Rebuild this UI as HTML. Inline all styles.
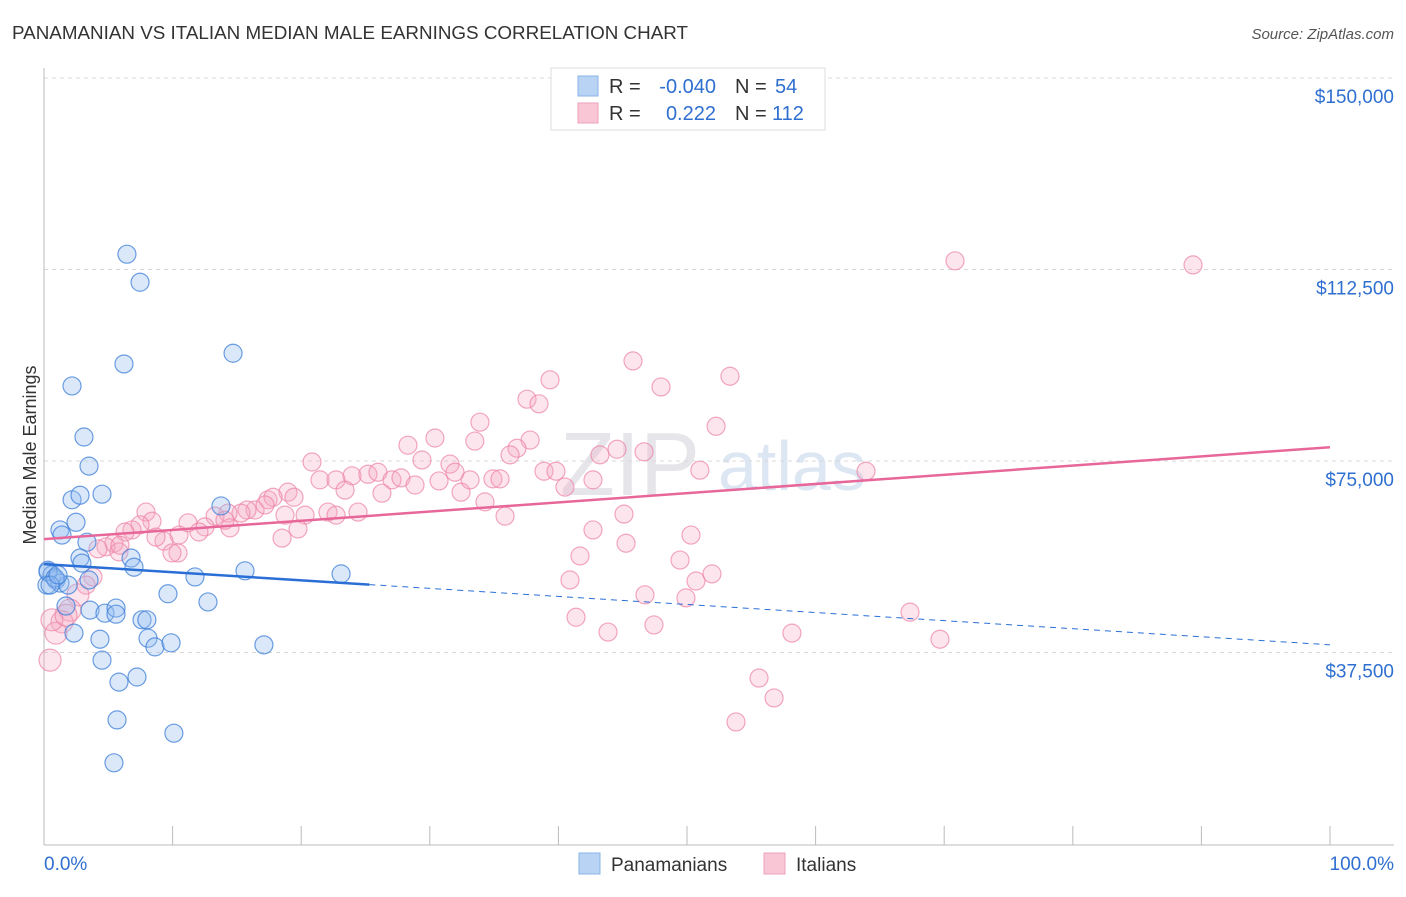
<!DOCTYPE html>
<html><head><meta charset="utf-8"><style>
body{margin:0;background:#fff;font-family:"Liberation Sans",sans-serif}
svg text{font-family:"Liberation Sans",sans-serif}
</style></head><body>
<svg id="c" width="1406" height="892" xmlns="http://www.w3.org/2000/svg">
<text x="12" y="39" font-size="18" fill="#333" textLength="676" lengthAdjust="spacingAndGlyphs">PANAMANIAN VS ITALIAN MEDIAN MALE EARNINGS CORRELATION CHART</text>
<text x="1394" y="39" font-size="15" fill="#555" font-style="italic" text-anchor="end">Source: ZipAtlas.com</text>
<text x="36" y="455" font-size="18" fill="#333" text-anchor="middle" transform="rotate(-90 36 455)">Median Male Earnings</text>
<text x="560" y="495" font-size="90" fill="#e6e6ea" font-family="Liberation Serif">ZIP</text>
<text x="718" y="490" font-size="70" fill="#dde6f3">atlas</text>
<g id="grid"></g><g id="pts"></g><g id="lines"></g>
<g>
<rect x="551" y="68" width="274" height="62" fill="#fff" stroke="#ddd"/>
<rect x="578" y="76" width="20" height="20" fill="#b9d3f5" stroke="#8ab3e8"/>
<rect x="578" y="103" width="20" height="20" fill="#f8c6d5" stroke="#eda3bb"/>
<text x="609" y="93" font-size="20" fill="#333">R =</text>
<text x="716" y="93" font-size="20" fill="#2f6fd0" text-anchor="end">-0.040</text>
<text x="735" y="93" font-size="20" fill="#333">N =</text>
<text x="775" y="93" font-size="20" fill="#2f6fd0">54</text>
<text x="609" y="120" font-size="20" fill="#333">R =</text>
<text x="716" y="120" font-size="20" fill="#2f6fd0" text-anchor="end">0.222</text>
<text x="735" y="120" font-size="20" fill="#333">N =</text>
<text x="772" y="120" font-size="20" fill="#2f6fd0">112</text>
</g>
<g>
<rect x="579" y="853" width="21" height="21" fill="#b9d3f5" stroke="#8ab3e8"/>
<text x="611" y="871" font-size="19" fill="#333">Panamanians</text>
<rect x="764" y="853" width="21" height="21" fill="#f8c6d5" stroke="#eda3bb"/>
<text x="796" y="871" font-size="19" fill="#333">Italians</text>
</g>
<text x="44" y="870" font-size="19" fill="#2f6fd0">0.0%</text>
<text x="1394" y="870" font-size="19" fill="#2f6fd0" text-anchor="end">100.0%</text>
</svg>
<script>
const yTicks=[37500,75000,112500,150000];
const yTickLabels=["$37,500","$75,000","$112,500","$150,000"];
const blueX=[6.45,7.47,14.7,6.22,2.18,3.11,3.5,2.18,2.8,4.51,13.76,1.24,2.49,1.4,3.34,2.8,6.77,7.0,2.95,11.74,15.63,23.1,0.31,0.62,0.93,1.24,0.23,3.5,1.87,9.64,12.75,1.71,3.58,4.74,5.6,5.6,7.62,8.0,2.33,4.35,8.09,8.63,9.88,17.1,4.51,5.83,7.23,5.68,10.1,5.44,0.31,0.86,0.47,1.09];
const blueY=[115.5,110.0,96.1,94.0,89.7,79.7,74.0,67.4,68.3,68.5,66.2,61.5,63.0,60.5,59.1,56.0,56.0,54.2,55.0,52.3,53.5,52.9,53.6,52.7,51.7,51.1,50.7,51.7,50.7,49.0,47.4,46.6,45.8,45.2,46.2,45.0,43.9,43.9,41.3,40.1,40.3,38.6,39.4,39.0,36.0,31.7,32.7,24.3,21.7,15.9,53.3,52.1,50.7,52.7];
const pinkX=[70.84,89.35,45.8,53.34,39.35,47.98,37.56,38.49,52.26,33.9,30.4,33.5,37.8,28.3,36.78,44.56,46.66,20.84,29.39,31.57,38.88,39.81,63.92,23.95,25.19,25.97,27.06,27.76,28.85,30.72,31.96,34.91,35.46,21.46,22.71,40.51,42.69,26.28,32.43,18.97,19.44,17.42,34.29,17.81,16.41,15.79,15.32,14.31,22.08,24.42,22.71,20.3,7.93,8.4,11.2,13.3,12.52,14.46,7.47,6.84,6.3,12.05,10.5,9.33,8.71,18.51,19.75,45.1,42.69,35.85,50.31,49.46,45.26,41.68,5.44,4.82,5.83,10.42,9.95,40.9,50.7,51.94,46.73,49.92,67.34,41.37,43.86,47.43,58.16,69.67,55.6,56.77,53.81,3.81,3.27,2.64,2.02,1.4,0.93,0.47,4.2,5.91,14.07,17.19,18.74,23.41,33.13,36.24,43.23,51.0,0.62,1.71];
const pinkY=[114.2,113.4,94.6,91.6,90.9,89.5,87.1,86.2,81.8,82.6,79.5,78.9,79.1,78.1,77.5,77.3,76.8,74.8,75.2,74.4,73.0,73.0,73.0,72.1,72.4,72.8,71.3,71.7,70.3,71.1,72.8,71.5,71.5,71.3,71.3,69.9,71.3,68.7,68.9,68.9,67.9,67.4,67.0,67.9,65.4,65.4,64.8,64.8,65.0,65.0,64.4,64.4,65.0,63.2,62.9,64.2,62.1,61.9,62.5,61.5,61.1,61.1,60.5,59.3,60.1,59.9,61.7,64.6,61.5,64.2,60.5,55.6,58.9,56.4,58.9,58.2,57.2,57.0,57.0,51.7,51.5,52.9,48.8,48.2,45.4,44.4,41.5,42.9,41.3,40.1,32.5,28.6,23.9,52.3,50.7,48.8,45.8,43.5,41.3,36.0,57.8,58.5,63.4,66.4,64.4,69.3,71.3,76.2,76.2,73.2,43.9,44.8];
const blueTrend=[54.8,39.0];
const pinkTrend=[59.7,77.7];
const blueSolidEnd=25.3;
const NS="http://www.w3.org/2000/svg";
const X0=44,X1=1330,Y0=844,Y1=78;
const sx=p=>X0+(p/100)*(X1-X0);
const sy=v=>Y0-(v/150000)*(Y0-Y1);
function mk(t,a,parent){const e=document.createElementNS(NS,t);for(const k in a)e.setAttribute(k,a[k]);parent.appendChild(e);return e;}
const grid=document.getElementById('grid');
yTicks.forEach((t,i)=>{
 const l=mk('line',{x1:X0,x2:1394,y1:sy(t),y2:sy(t),stroke:'#d8d8d8','stroke-dasharray':'4,4'},grid);
 
 
 const tx=mk('text',{x:1394,y:sy(t)+25,'font-size':19,fill:'#2f6fd0','text-anchor':'end'},grid);
 tx.textContent=yTickLabels[i];
 
 
});
const ax=mk('line',{x1:X0,x2:X0,y1:68,y2:845,stroke:'#bbb'},grid);


const bx=mk('line',{x1:X0,x2:1394,y1:845,y2:845,stroke:'#bbb'},grid);


for(let i=0;i<=10;i++){const t=mk('line',{x1:sx(i*10),x2:sx(i*10),y1:826,y2:845,stroke:'#bbb'},grid);
 
 }
const pts=document.getElementById('pts');
pinkX.forEach((x,i)=>{const c=mk('circle',{cx:sx(x),cy:sy(pinkY[i]*1000),r:x<3?11:9,fill:'rgba(246,170,195,0.3)',stroke:'rgba(236,130,165,0.7)','stroke-width':1.2},pts);
 
 });
blueX.forEach((x,i)=>{const c=mk('circle',{cx:sx(x),cy:sy(blueY[i]*1000),r:9,fill:'rgba(150,190,240,0.35)',stroke:'rgba(60,125,215,0.75)','stroke-width':1.2},pts);
 
 });
const lines=document.getElementById('lines');
const by=p=>blueTrend[0]+(blueTrend[1]-blueTrend[0])*p/100;
const l1=mk('line',{x1:sx(0),y1:sy(by(0)*1000),x2:sx(blueSolidEnd),y2:sy(by(blueSolidEnd)*1000),stroke:'#2a6fd6','stroke-width':2.5},lines);


const l2=mk('line',{x1:sx(blueSolidEnd),y1:sy(by(blueSolidEnd)*1000),x2:sx(100),y2:sy(by(100)*1000),stroke:'#2a6fd6','stroke-width':1,'stroke-dasharray':'6,5'},lines);


const l3=mk('line',{x1:sx(0),y1:sy(pinkTrend[0]*1000),x2:sx(100),y2:sy(pinkTrend[1]*1000),stroke:'#e8679a','stroke-width':2.5},lines);


</script>
</body></html>
